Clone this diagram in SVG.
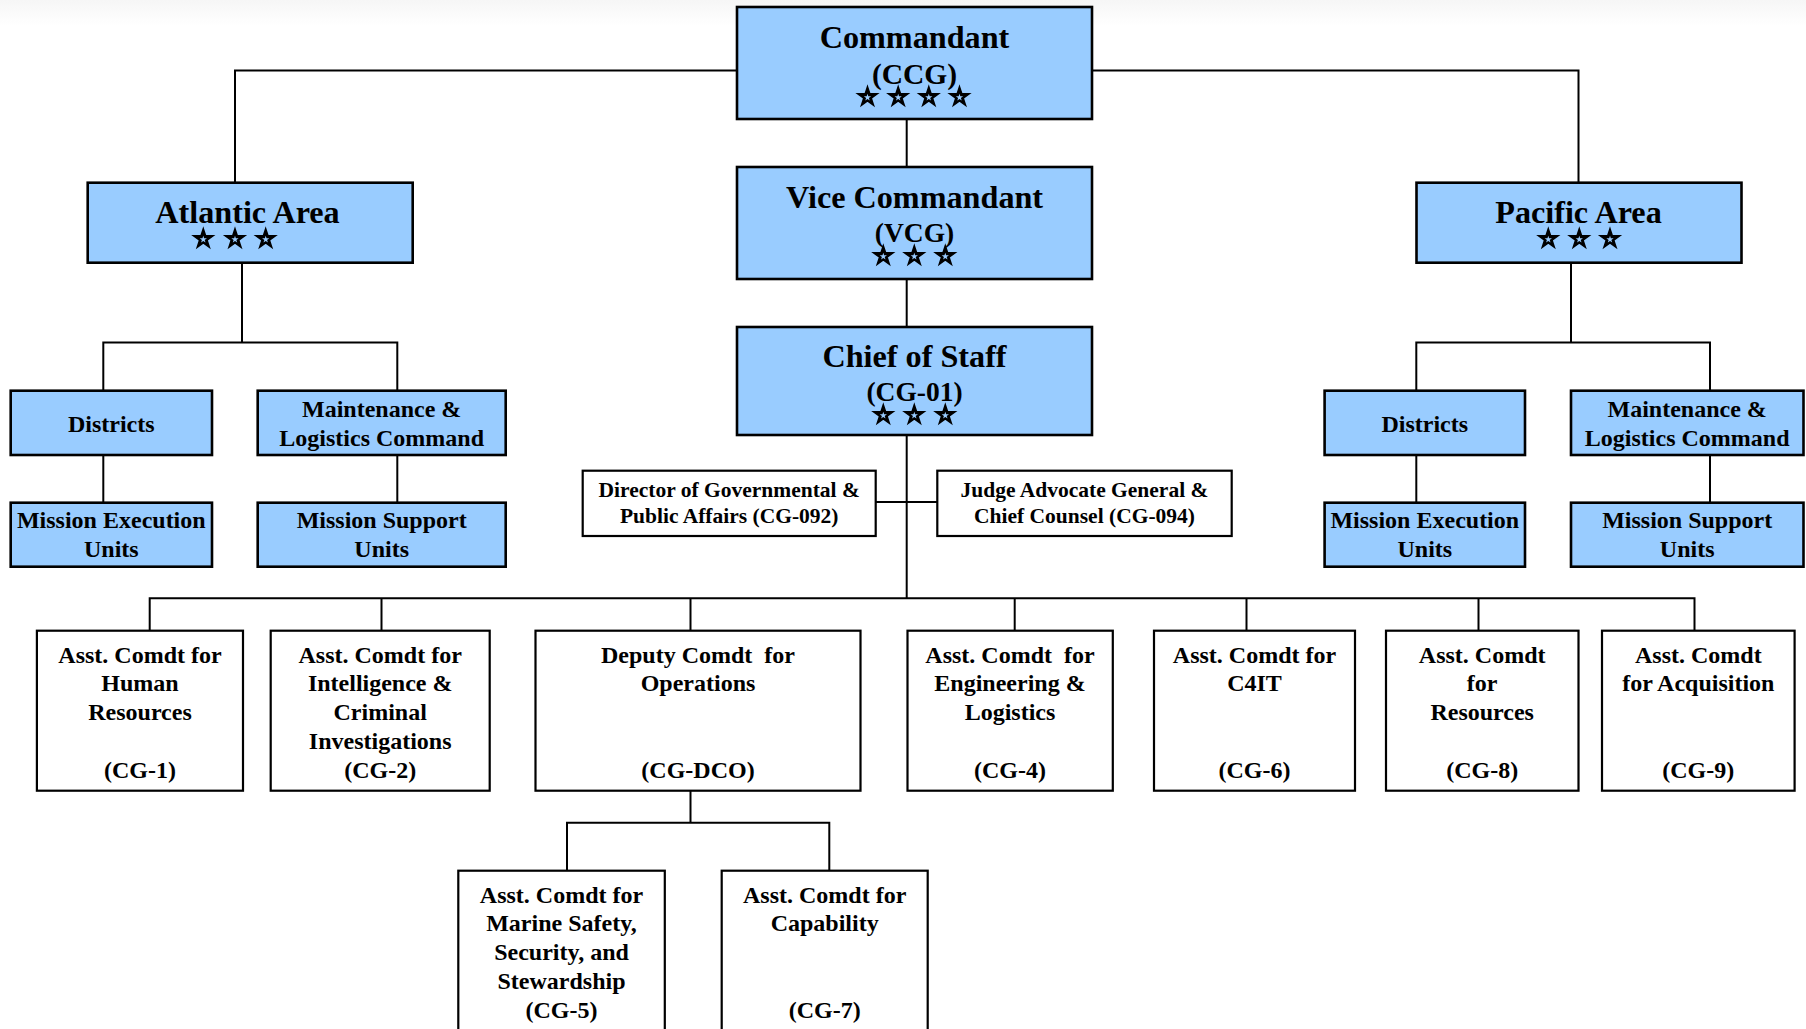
<svg xmlns="http://www.w3.org/2000/svg" xmlns:xlink="http://www.w3.org/1999/xlink" width="1806" height="1029" viewBox="0 0 1806 1029">
<defs>
<linearGradient id="topfade" x1="0" y1="0" x2="0" y2="1">
<stop offset="0" stop-color="#f6f6f6"/>
<stop offset="1" stop-color="#ffffff"/>
</linearGradient>
<g id="star">
<polygon points="0,-10 2.245,-3.09 9.511,-3.09 3.633,1.18 5.878,8.09 0,3.82 -5.878,8.09 -3.633,1.18 -9.511,-3.09 -2.245,-3.09" fill="#000" stroke="#000" stroke-width="1.4" stroke-linejoin="miter" transform="scale(1.04)"/>
<polygon points="0,-10 2.245,-3.09 9.511,-3.09 3.633,1.18 5.878,8.09 0,3.82 -5.878,8.09 -3.633,1.18 -9.511,-3.09 -2.245,-3.09" fill="#99ccff" transform="translate(0,0.5) scale(0.38)"/>
</g>
<style>
.blue { fill: #99ccff; stroke: #000; stroke-width: 2.6; }
.white { fill: #ffffff; stroke: #000; stroke-width: 2.2; }
.conn { fill: none; stroke: #000; stroke-width: 2; }
text { font-family: "Liberation Serif", "Times New Roman", serif; font-weight: bold; fill: #000; text-anchor: middle; }
.big { font-size: 32.2px; }
.code { font-size: 27.5px; }
.code2 { font-size: 29.5px; }
.mid { font-size: 24px; }
.small { font-size: 21.5px; }
.pre { white-space: pre; }
</style>
</defs>
<rect x="0" y="0" width="1806" height="1029" fill="#ffffff"/>
<rect x="0" y="0" width="1806" height="26" fill="url(#topfade)"/>

<g id="connectors">
<polyline class="conn" points="737,70.5 235,70.5 235,182.7"/>
<polyline class="conn" points="1092,70.5 1578.5,70.5 1578.5,182.7"/>
<line class="conn" x1="906.7" y1="119" x2="906.7" y2="167"/>
<line class="conn" x1="906.7" y1="279" x2="906.7" y2="327"/>
<line class="conn" x1="906.7" y1="435" x2="906.7" y2="598.3"/>
<line class="conn" x1="875.7" y1="502" x2="937.3" y2="502"/>
<line class="conn" x1="242" y1="262.7" x2="242" y2="342.5"/>
<polyline class="conn" points="103.3,390.7 103.3,342.5 397.3,342.5 397.3,390.7"/>
<line class="conn" x1="103.3" y1="455" x2="103.3" y2="502.7"/>
<line class="conn" x1="397.3" y1="455" x2="397.3" y2="502.7"/>
<line class="conn" x1="1571" y1="262.7" x2="1571" y2="342.5"/>
<polyline class="conn" points="1416.3,390.7 1416.3,342.5 1710,342.5 1710,390.7"/>
<line class="conn" x1="1416.3" y1="455" x2="1416.3" y2="502.7"/>
<line class="conn" x1="1710" y1="455" x2="1710" y2="502.7"/>
<polyline class="conn" points="149.7,630.7 149.7,598.3 1694.5,598.3 1694.5,630.7"/>
<line class="conn" x1="381.5" y1="598.3" x2="381.5" y2="630.7"/>
<line class="conn" x1="690.5" y1="598.3" x2="690.5" y2="630.7"/>
<line class="conn" x1="1014.7" y1="598.3" x2="1014.7" y2="630.7"/>
<line class="conn" x1="1246.5" y1="598.3" x2="1246.5" y2="630.7"/>
<line class="conn" x1="1478.5" y1="598.3" x2="1478.5" y2="630.7"/>
<line class="conn" x1="690.5" y1="790.7" x2="690.5" y2="822.7"/>
<polyline class="conn" points="567,870.7 567,822.7 829.3,822.7 829.3,870.7"/>
</g>

<g id="commandant">
<rect class="blue" x="737" y="7" width="355" height="112"/>
<text class="big" x="914.5" y="48">Commandant</text>
<text class="code2" x="914.5" y="84">(CCG)</text>
<use xlink:href="#star" href="#star" x="867.5" y="97"/>
<use xlink:href="#star" href="#star" x="898.2" y="97"/>
<use xlink:href="#star" href="#star" x="928.8" y="97"/>
<use xlink:href="#star" href="#star" x="959.5" y="97"/>
</g>

<g id="vice-commandant">
<rect class="blue" x="737" y="167" width="355" height="112"/>
<text class="big" x="914.5" y="208">Vice Commandant</text>
<text class="code" x="914.5" y="242">(VCG)</text>
<use xlink:href="#star" href="#star" x="883.3" y="256"/>
<use xlink:href="#star" href="#star" x="914.3" y="256"/>
<use xlink:href="#star" href="#star" x="945.3" y="256"/>
</g>

<g id="chief-of-staff">
<rect class="blue" x="737" y="327" width="355" height="108"/>
<text class="big" x="914.5" y="366.7">Chief of Staff</text>
<text class="code" x="914.5" y="401">(CG-01)</text>
<use xlink:href="#star" href="#star" x="883.3" y="415"/>
<use xlink:href="#star" href="#star" x="914.3" y="415"/>
<use xlink:href="#star" href="#star" x="945.3" y="415"/>
</g>

<g id="atlantic-area">
<rect class="blue" x="87.7" y="182.7" width="325" height="80"/>
<text class="big" x="247.5" y="223">Atlantic Area</text>
<use xlink:href="#star" href="#star" x="203.3" y="239"/>
<use xlink:href="#star" href="#star" x="235" y="239"/>
<use xlink:href="#star" href="#star" x="265.7" y="239"/>
</g>

<g id="pacific-area">
<rect class="blue" x="1416.5" y="182.7" width="325" height="80"/>
<text class="big" x="1578.5" y="223">Pacific Area</text>
<use xlink:href="#star" href="#star" x="1548.3" y="239"/>
<use xlink:href="#star" href="#star" x="1579.3" y="239"/>
<use xlink:href="#star" href="#star" x="1610" y="239"/>
</g>

<g id="atl-districts">
<rect class="blue" x="10.7" y="390.7" width="201.3" height="64.3"/>
<text class="mid" x="111.3" y="431.5">Districts</text>
</g>
<g id="atl-mlc">
<rect class="blue" x="257.7" y="390.7" width="248" height="64.3"/>
<text class="mid" x="381.7" y="416.5">Maintenance &amp;</text>
<text class="mid" x="381.7" y="445.5">Logistics Command</text>
</g>
<g id="atl-meu">
<rect class="blue" x="10.7" y="502.7" width="201.3" height="64"/>
<text class="mid" x="111.3" y="528">Mission Execution</text>
<text class="mid" x="111.3" y="557">Units</text>
</g>
<g id="atl-msu">
<rect class="blue" x="257.7" y="502.7" width="248" height="64"/>
<text class="mid" x="381.7" y="528">Mission Support</text>
<text class="mid" x="381.7" y="557">Units</text>
</g>

<g id="pac-districts">
<rect class="blue" x="1324.6" y="390.7" width="200.4" height="64.3"/>
<text class="mid" x="1424.8" y="431.5">Districts</text>
</g>
<g id="pac-mlc">
<rect class="blue" x="1571" y="390.7" width="232.5" height="64.3"/>
<text class="mid" x="1687.2" y="416.5">Maintenance &amp;</text>
<text class="mid" x="1687.2" y="445.5">Logistics Command</text>
</g>
<g id="pac-meu">
<rect class="blue" x="1324.6" y="502.7" width="200.4" height="64"/>
<text class="mid" x="1424.8" y="528">Mission Execution</text>
<text class="mid" x="1424.8" y="557">Units</text>
</g>
<g id="pac-msu">
<rect class="blue" x="1571" y="502.7" width="232.5" height="64"/>
<text class="mid" x="1687.2" y="528">Mission Support</text>
<text class="mid" x="1687.2" y="557">Units</text>
</g>

<g id="cg-092">
<rect class="white" x="582.7" y="470.7" width="293" height="65.3"/>
<text class="small" x="729.2" y="497.3">Director of Governmental &amp;</text>
<text class="small" x="729.2" y="523.3">Public Affairs (CG-092)</text>
</g>
<g id="cg-094">
<rect class="white" x="937.3" y="470.7" width="294.4" height="65.3"/>
<text class="small" x="1084.5" y="497.3">Judge Advocate General &amp;</text>
<text class="small" x="1084.5" y="523.3">Chief Counsel (CG-094)</text>
</g>

<g id="cg-1">
<rect class="white" x="36.9" y="630.7" width="206.1" height="160"/>
<text class="mid" x="140" y="662.5">Asst. Comdt for</text>
<text class="mid" x="140" y="691.2">Human</text>
<text class="mid" x="140" y="720">Resources</text>
<text class="mid" x="140" y="777.5">(CG-1)</text>
</g>
<g id="cg-2">
<rect class="white" x="270.7" y="630.7" width="219" height="160"/>
<text class="mid" x="380.2" y="662.5">Asst. Comdt for</text>
<text class="mid" x="380.2" y="691.2">Intelligence &amp;</text>
<text class="mid" x="380.2" y="720">Criminal</text>
<text class="mid" x="380.2" y="748.7">Investigations</text>
<text class="mid" x="380.2" y="777.5">(CG-2)</text>
</g>
<g id="cg-dco">
<rect class="white" x="535.5" y="630.7" width="325" height="160"/>
<text class="mid pre" x="698" y="662.5" xml:space="preserve">Deputy Comdt  for</text>
<text class="mid" x="698" y="691.2">Operations</text>
<text class="mid" x="698" y="777.5">(CG-DCO)</text>
</g>
<g id="cg-4">
<rect class="white" x="907.5" y="630.7" width="205.3" height="160"/>
<text class="mid pre" x="1010" y="662.5" xml:space="preserve">Asst. Comdt  for</text>
<text class="mid" x="1010" y="691.2">Engineering &amp;</text>
<text class="mid" x="1010" y="720">Logistics</text>
<text class="mid" x="1010" y="777.5">(CG-4)</text>
</g>
<g id="cg-6">
<rect class="white" x="1154" y="630.7" width="201" height="160"/>
<text class="mid" x="1254.5" y="662.5">Asst. Comdt for</text>
<text class="mid" x="1254.5" y="691.2">C4IT</text>
<text class="mid" x="1254.5" y="777.5">(CG-6)</text>
</g>
<g id="cg-8">
<rect class="white" x="1386" y="630.7" width="192.5" height="160"/>
<text class="mid" x="1482.2" y="662.5">Asst. Comdt</text>
<text class="mid" x="1482.2" y="691.2">for</text>
<text class="mid" x="1482.2" y="720">Resources</text>
<text class="mid" x="1482.2" y="777.5">(CG-8)</text>
</g>
<g id="cg-9">
<rect class="white" x="1602" y="630.7" width="192.6" height="160"/>
<text class="mid" x="1698.3" y="662.5">Asst. Comdt</text>
<text class="mid" x="1698.3" y="691.2">for Acquisition</text>
<text class="mid" x="1698.3" y="777.5">(CG-9)</text>
</g>
<g id="cg-5">
<rect class="white" x="458.3" y="870.7" width="206.5" height="180"/>
<text class="mid" x="561.5" y="902.5">Asst. Comdt for</text>
<text class="mid" x="561.5" y="931.2">Marine Safety,</text>
<text class="mid" x="561.5" y="960">Security, and</text>
<text class="mid" x="561.5" y="988.7">Stewardship</text>
<text class="mid" x="561.5" y="1017.5">(CG-5)</text>
</g>
<g id="cg-7">
<rect class="white" x="721.7" y="870.7" width="206" height="180"/>
<text class="mid" x="824.7" y="902.5">Asst. Comdt for</text>
<text class="mid" x="824.7" y="931.2">Capability</text>
<text class="mid" x="824.7" y="1017.5">(CG-7)</text>
</g>
</svg>
